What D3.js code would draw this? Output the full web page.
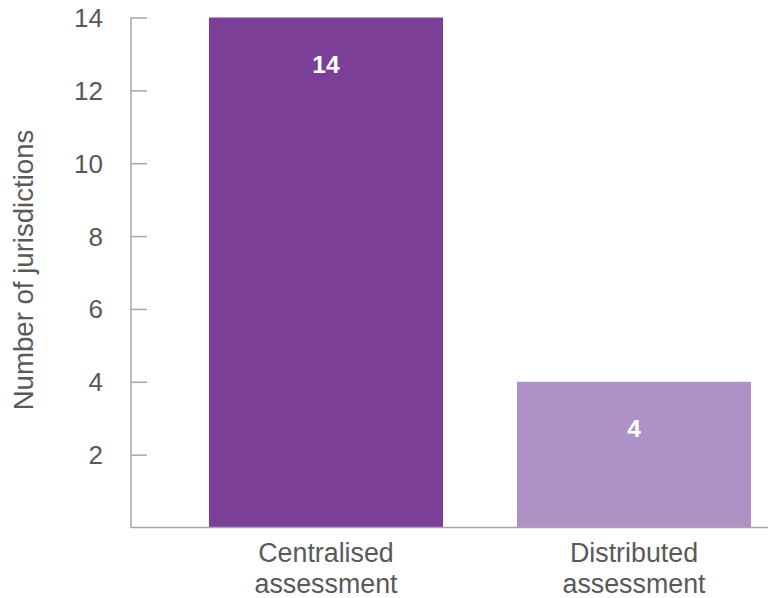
<!DOCTYPE html>
<html>
<head>
<meta charset="utf-8">
<script src="https://cdn.jsdelivr.net/npm/d3@7"></script>
<style>
  html, body { margin: 0; padding: 0; background: #fff; }
  svg { display: block; font-family: "Liberation Sans", Arial, sans-serif; }
</style>
</head>
<body>
<svg id="chart" width="768" height="598"></svg>
<script>
// Number of jurisdictions by assessment model
const categories = [["Centralised", "assessment"], ["Distributed", "assessment"]];
const values = [14, 4];
const barColors = ["#7b3f98", "#ae91c5"];
const yTicks = [2, 4, 6, 8, 10, 12, 14];
const yTitle = "Number of jurisdictions";

const svg = d3.select("#chart");
const axisX = 131, baseY = 527.5, topY = 17.5;
const textColor = "#595959";

const y = d3.scaleLinear().domain([0, 14]).range([baseY, topY]);
const x = d3.scaleBand()
  .domain(d3.range(categories.length))
  .range([172, 788])
  .paddingInner(0.24)
  .paddingOuter(0.12);

// bars
svg.selectAll("rect.bar")
  .data(values)
  .join("rect")
  .attr("class", "bar")
  .attr("x", (d, i) => x(i))
  .attr("width", x.bandwidth())
  .attr("y", d => y(d))
  .attr("height", d => baseY - y(d))
  .attr("fill", (d, i) => barColors[i]);

// value labels inside bars
svg.selectAll("text.val")
  .data(values)
  .join("text")
  .attr("class", "val")
  .attr("x", (d, i) => x(i) + x.bandwidth() / 2)
  .attr("y", d => y(d) + 55.5)
  .attr("text-anchor", "middle")
  .attr("fill", "#fff")
  .attr("font-weight", "bold")
  .attr("font-size", 24.5)
  .text(d => d);

// y axis with inward ticks
const yAxis = d3.axisRight(y).tickValues(yTicks).tickSize(16).tickFormat("");
const gy = svg.append("g").attr("transform", `translate(${axisX},0)`).call(yAxis);
gy.select(".domain").remove();
gy.selectAll(".tick line").attr("stroke", "#a6a6a6").attr("stroke-width", 1.5);
svg.append("line")
  .attr("x1", axisX).attr("x2", axisX)
  .attr("y1", topY).attr("y2", baseY)
  .attr("stroke", "#a6a6a6").attr("stroke-width", 1.5);

// y tick labels
svg.selectAll("text.ytick")
  .data(yTicks)
  .join("text")
  .attr("class", "ytick")
  .attr("x", 103)
  .attr("y", d => y(d) + 9.5)
  .attr("text-anchor", "end")
  .attr("fill", textColor)
  .attr("font-size", 26)
  .text(d => d);

// baseline
svg.append("line")
  .attr("x1", axisX).attr("x2", 768)
  .attr("y1", baseY).attr("y2", baseY)
  .attr("stroke", "#a6a6a6").attr("stroke-width", 1.5);

// category labels
const cat = svg.selectAll("text.cat")
  .data(categories)
  .join("text")
  .attr("class", "cat")
  .attr("text-anchor", "middle")
  .attr("fill", textColor)
  .attr("font-size", 26.8);
cat.each(function(lines, i) {
  const t = d3.select(this);
  lines.forEach((ln, j) => {
    t.append("tspan")
      .attr("x", x(i) + x.bandwidth() / 2)
      .attr("y", 562 + j * 31)
      .text(ln);
  });
});

// y axis title
svg.append("text")
  .attr("transform", `translate(33,270) rotate(-90)`)
  .attr("text-anchor", "middle")
  .attr("fill", textColor)
  .attr("font-size", 27.6)
  .text(yTitle);
</script>
</body>
</html>
